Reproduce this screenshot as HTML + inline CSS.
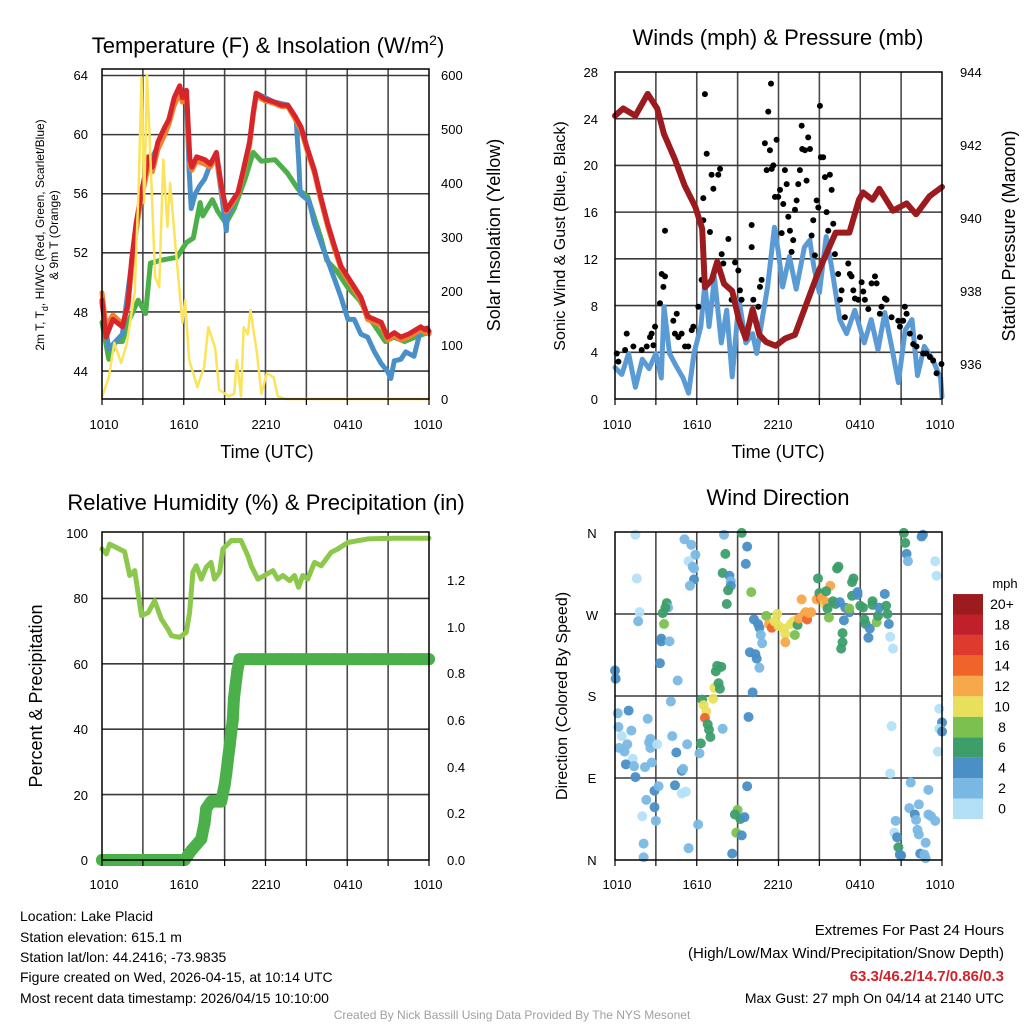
<!DOCTYPE html>
<html><head><meta charset="utf-8"><style>
html,body{margin:0;padding:0;background:#fff;}
svg{display:block;font-family:"Liberation Sans",Arial,sans-serif;}
</style></head><body>
<svg id="fig" width="1024" height="1024" viewBox="0 0 1024 1024" xmlns="http://www.w3.org/2000/svg">
<rect x="0" y="0" width="1024" height="1024" fill="#fff"/>
<g id="grids"></g>
<g id="marks"></g>
<g id="frames"></g>
<text x="268" y="53" font-size="22" text-anchor="middle">Temperature (F) &amp; Insolation (W/m<tspan dy="-8" font-size="14">2</tspan><tspan dy="8">)</tspan></text>
<g font-size="13" text-anchor="end">
<text x="88" y="80">64</text><text x="88" y="139">60</text><text x="88" y="198">56</text><text x="88" y="257">52</text><text x="88" y="317">48</text><text x="88" y="376">44</text></g>
<g font-size="13" text-anchor="start">
<text x="441" y="80">600</text><text x="441" y="134">500</text><text x="441" y="188">400</text><text x="441" y="242">300</text><text x="441" y="296">200</text><text x="441" y="350">100</text><text x="441" y="404">0</text></g>
<g transform="translate(44,235) rotate(-90)" font-size="12" text-anchor="middle">
<text x="0" y="0">2m T, T<tspan dy="4" font-size="9">d</tspan><tspan dy="-4">, HI/WC (Red, Green, Scarlet/Blue)</tspan></text>
<text x="0" y="14">&amp; 9m T (Orange)</text></g>
<text transform="translate(500,235) rotate(-90)" font-size="18" text-anchor="middle">Solar Insolation (Yellow)</text>
<g font-size="13" text-anchor="middle">
<text x="104" y="429">1010</text><text x="184" y="429">1610</text><text x="266" y="429">2210</text><text x="348" y="429">0410</text><text x="428" y="429">1010</text></g>
<text x="267" y="458" font-size="18" text-anchor="middle">Time (UTC)</text>
<text x="778" y="45" font-size="22" text-anchor="middle">Winds (mph) &amp; Pressure (mb)</text>
<g font-size="13" text-anchor="end">
<text x="598" y="77">28</text><text x="598" y="124">24</text><text x="598" y="170">20</text><text x="598" y="217">16</text><text x="598" y="264">12</text><text x="598" y="311">8</text><text x="598" y="357">4</text><text x="598" y="404">0</text></g>
<g font-size="13" text-anchor="start">
<text x="960" y="77">944</text><text x="960" y="150">942</text><text x="960" y="223">940</text><text x="960" y="296">938</text><text x="960" y="369">936</text></g>
<text transform="translate(565,236) rotate(-90)" font-size="16" text-anchor="middle">Sonic Wind &amp; Gust (Blue, Black)</text>
<text transform="translate(1015,236) rotate(-90)" font-size="18" text-anchor="middle">Station Pressure (Maroon)</text>
<g font-size="13" text-anchor="middle">
<text x="617" y="429">1010</text><text x="697" y="429">1610</text><text x="778" y="429">2210</text><text x="860" y="429">0410</text><text x="940" y="429">1010</text></g>
<text x="778" y="458" font-size="18" text-anchor="middle">Time (UTC)</text>
<text x="266" y="510" font-size="22" text-anchor="middle">Relative Humidity (%) &amp; Precipitation (in)</text>
<g font-size="13" text-anchor="end">
<text x="88" y="538">100</text><text x="88" y="603">80</text><text x="88" y="669">60</text><text x="88" y="734">40</text><text x="88" y="800">20</text><text x="88" y="865">0</text></g>
<g font-size="13" text-anchor="start">
<text x="447" y="585">1.2</text><text x="447" y="632">1.0</text><text x="447" y="678">0.8</text><text x="447" y="725">0.6</text><text x="447" y="772">0.4</text><text x="447" y="818">0.2</text><text x="447" y="865">0.0</text></g>
<text transform="translate(42,696) rotate(-90)" font-size="18" text-anchor="middle">Percent &amp; Precipitation</text>
<g font-size="13" text-anchor="middle">
<text x="104" y="889">1010</text><text x="184" y="889">1610</text><text x="266" y="889">2210</text><text x="348" y="889">0410</text><text x="428" y="889">1010</text></g>
<text x="778" y="505" font-size="22" text-anchor="middle">Wind Direction</text>
<g font-size="13" text-anchor="middle">
<text x="592" y="538">N</text><text x="592" y="620">W</text><text x="592" y="701">S</text><text x="592" y="783">E</text><text x="592" y="865">N</text></g>
<text transform="translate(567,696) rotate(-90)" font-size="16" text-anchor="middle">Direction (Colored By Speed)</text>
<g font-size="13" text-anchor="middle">
<text x="617" y="889">1010</text><text x="697" y="889">1610</text><text x="778" y="889">2210</text><text x="860" y="889">0410</text><text x="940" y="889">1010</text></g>
<g id="cbar"></g>
<text x="1005" y="588" font-size="13" text-anchor="middle">mph</text>
<g font-size="14">
<text x="20" y="921">Location: Lake Placid</text>
<text x="20" y="942">Station elevation: 615.1 m</text>
<text x="20" y="962">Station lat/lon: 44.2416; -73.9835</text>
<text x="20" y="982">Figure created on Wed, 2026-04-15, at 10:14 UTC</text>
<text x="20" y="1003">Most recent data timestamp: 2026/04/15 10:10:00</text></g>
<g font-size="15" text-anchor="end">
<text x="1004" y="935">Extremes For Past 24 Hours</text>
<text x="1004" y="958">(High/Low/Max Wind/Precipitation/Snow Depth)</text>
<text x="1004" y="981" fill="#d0232a" font-weight="bold">63.3/46.2/14.7/0.86/0.3</text>
<text x="1004" y="1003" font-size="14">Max Gust: 27 mph On 04/14 at 2140 UTC</text></g>
<text x="512" y="1019" font-size="12" fill="#a0a0a0" text-anchor="middle">Created By Nick Bassill Using Data Provided By The NYS Mesonet</text>
</svg>
<script>
// ---- Panel 1: temperature & insolation ----
const tHours=[0,0.3,0.8,1.5,1.9,2.17,2.5,2.9,3.2,3.4,3.7,4.1,4.6,4.9,5.3,5.7,5.9,6.2,6.45,6.6,6.95,7.55,7.95,8.4,8.76,9.12,9.55,9.98,10.35,10.83,11.1,11.32,11.95,12.66,13.15,13.64,14.2,14.61,15.1,15.59,16.05,16.56,17.05,17.54,17.95,18.51,19.0,19.49,20.0,20.5,20.95,21.45,21.93,22.5,23.39,23.7,23.85,24];
const tempRed=[48.8,46.3,47.5,47.0,48.5,51.5,54.0,56.1,57.5,58.5,57.8,59.5,60.5,61.0,62.5,63.3,62.5,63.0,58.3,57.8,58.5,58.3,58.0,58.8,56.5,54.9,55.5,56.1,57.5,59.5,61.5,62.8,62.4,62.2,62.0,62.0,61.2,60.5,59.0,57.6,55.8,54.0,52.5,51.1,50.5,49.7,49.0,47.7,47.5,47.3,46.3,46.6,46.3,46.5,47.0,46.8,46.9,46.7];
const temp9mOrange=[49.3,47.0,47.8,47.2,48.3,51.0,53.6,55.8,57.0,58.0,57.5,59.0,60.0,60.7,62.0,62.8,62.2,62.6,58.0,57.6,58.2,58.0,57.8,58.5,56.3,54.8,55.3,56.0,57.3,59.3,61.3,62.6,62.3,62.1,61.9,61.9,61.0,60.3,58.8,57.4,55.6,53.8,52.3,50.9,50.3,49.5,48.8,47.5,47.3,47.1,46.1,46.4,46.1,46.3,46.8,46.6,46.7,46.5];
const dewHours=[0,0.5,1.0,1.5,2.0,2.66,3.2,3.55,4.3,5.5,6.2,6.7,7.2,7.4,8.1,8.5,9.1,9.7,10.5,11.1,11.7,12.7,13.6,14.4,15.1,16.1,16.5,17.2,18.0,18.9,19.7,20.8,21.4,22.2,23.0,23.6,24];
const dewGreen=[47.3,44.8,46.0,46.0,47.5,48.8,47.9,51.3,51.5,51.7,52.7,53.0,55.4,54.5,55.6,54.8,54.0,55.0,57.0,58.8,58.2,58.3,57.4,56.3,55.8,52.9,51.5,50.8,49.7,48.8,47.5,46.0,46.3,46.0,46.3,46.5,46.6];
const wcHours=[0,0.5,1.5,2.17,2.9,3.39,4.61,5.71,6.2,6.4,6.55,6.85,7.15,7.54,7.95,8.39,8.76,9.12,9.2,9.98,10.83,11.32,12.66,13.64,14.25,14.45,14.55,15.2,15.59,16.15,16.56,17.15,17.54,18.05,18.51,19.0,19.49,20.0,20.5,20.95,21.2,21.45,21.93,22.3,22.9,23.39,23.85,24];
const wcBlue=[48.6,45.5,46.5,51.3,56.0,57.8,60.3,63.0,62.5,57.5,55.0,56.0,56.5,57.0,58.0,58.5,56.0,53.5,54.5,56.0,59.5,62.8,62.2,62.0,61.0,58.0,56.0,55.5,54.0,52.5,51.5,50.0,49.0,47.5,47.5,46.5,46.3,45.3,44.5,44.0,43.5,44.7,44.8,45.3,45.0,46.8,46.9,46.7];
const solHours=[0,0.5,0.9,1.4,1.8,2.4,2.7,2.9,3.1,3.3,3.5,3.9,4.2,4.5,4.8,5.0,5.4,5.9,6.1,6.4,7.0,7.5,7.8,8.3,8.6,9.3,9.7,9.9,10.2,10.4,10.7,10.9,11.4,11.7,12.1,12.6,12.9,13.5,24];
const solar=[4,40,104,67,100,196,400,596,363,600,480,226,207,443,319,400,281,141,183,72,22,60,133,95,17,5,10,72,5,133,120,165,80,10,48,40,5,0,0];
// ---- Panel 2: winds & pressure ----
const windHours=[0,0.5,1.0,1.5,2.0,2.5,3.0,3.4,3.6,4.0,4.5,5.0,5.4,5.8,6.3,6.6,6.9,7.3,7.8,8.2,8.6,9.1,9.6,10.1,10.4,10.8,11.2,11.7,12.0,12.3,12.8,13.3,13.9,14.3,14.6,15.0,15.5,15.9,16.5,17.0,17.6,18.3,18.8,19.3,19.8,20.3,20.8,21.3,21.8,22.2,22.7,23.3,23.9,24];
const windSpeed=[2.7,2.1,3.9,1.0,3.4,2.6,3.9,1.8,7.9,3.9,2.8,1.8,0.5,3.9,6.2,9.9,6.2,10.4,4.8,7.6,1.9,8.5,4.8,5.6,3.9,6.8,9.6,14.7,12.5,9.6,12.2,9.4,13.0,13.6,11.3,9.1,13.9,11.3,6.8,5.6,7.6,4.8,6.8,4.2,7.4,4.5,1.4,5.9,6.8,2.0,4.5,3.4,1.8,0.2];
const gustHours=[0.13,0.25,0.74,0.86,1.35,1.96,2.33,2.57,2.69,2.94,2.82,3.30,3.43,3.67,3.67,3.55,4.28,4.53,4.40,4.65,4.89,5.14,5.38,5.63,5.75,6.12,6.36,6.48,6.48,6.60,6.73,6.97,7.09,7.22,7.58,7.71,7.83,7.95,8.32,8.56,8.81,9.05,9.17,9.29,10.03,10.03,10.15,10.52,10.64,10.76,11.0,11.13,11.25,11.37,11.45,11.5,11.62,11.74,11.86,11.98,12.11,12.23,12.35,12.47,12.6,12.72,12.84,12.96,13.08,13.21,13.33,13.45,13.57,13.7,13.74,13.94,14.06,14.18,14.31,14.43,14.55,14.67,14.8,14.92,15.04,15.11,15.28,15.41,15.53,15.65,15.77,15.9,16.02,16.14,16.38,16.51,16.63,16.87,17.12,17.24,17.36,17.49,17.61,17.85,18.1,18.22,18.34,18.59,18.83,19.08,19.2,19.44,19.56,19.81,19.93,20.3,20.79,20.91,21.15,21.27,21.4,21.64,21.89,22.13,22.38,22.62,22.86,23.11,23.35,23.6,23.96];
const gustSpeed=[3.9,3.2,4.2,5.6,4.5,4.2,4.5,5.3,5.6,6.2,4.6,8.2,10.7,10.5,14.4,9.6,6.7,7.3,5.6,5.3,5.6,4.5,4.5,5.9,6.2,7.9,10.2,15.3,17.2,26.1,21.0,14.3,19.2,18.0,19.2,19.7,12.4,11.6,13.7,8.5,11.7,11.0,9.3,8.5,13.0,14.9,8.5,7.9,9.6,10.2,21.9,19.6,24.6,21.3,27.0,19.7,20.0,17.3,22.2,17.3,17.9,14.2,16.7,19.6,18.4,15.6,14.4,12.6,13.6,16.2,17.0,18.4,19.6,23.4,21.4,21.3,18.7,22.4,21.4,14.0,15.3,12.3,17.0,16.4,25.1,20.7,20.7,19.0,16.0,14.4,19.2,17.9,15.0,12.4,10.7,8.5,9.3,7.0,11.6,10.7,10.5,9.3,8.6,8.5,10.0,9.2,8.5,7.7,9.9,10.5,9.9,7.3,7.9,8.6,8.5,7.0,6.7,6.2,6.7,7.9,7.3,5.6,4.7,4.5,5.3,3.9,3.9,3.6,3.3,2.2,3.0];
const presHours=[0,0.6,1.5,2.4,3.1,3.6,4.4,5.1,5.9,6.4,6.6,7.1,7.5,8.0,8.6,9.1,9.6,10.1,10.6,11.1,11.8,12.5,13.2,14.0,14.9,16.2,17.2,17.9,18.2,18.9,19.4,20.4,21.4,22.1,23.1,24];
const pressure=[942.8,943.0,942.8,943.4,943.0,942.3,941.6,940.9,940.3,939.7,938.1,938.3,938.8,938.2,938.0,937.2,936.7,937.5,936.8,936.6,936.5,936.7,936.8,937.6,938.5,939.6,939.6,940.5,940.7,940.5,940.8,940.2,940.4,940.1,940.6,940.85];
// ---- Panel 3: RH & precipitation ----
const rhHours=[0,0.32,0.56,1.66,2.03,2.4,2.9,3.4,3.86,4.35,4.84,5.09,5.7,6.19,6.43,6.67,6.92,7.29,7.65,8.0,8.26,8.63,8.87,9.49,10.2,10.7,10.95,11.44,11.93,12.54,12.9,13.28,13.77,14.13,14.43,14.74,15.1,15.6,16.09,16.82,17.3,18.04,19.5,21.5,24];
const rh=[95.1,93.6,96.6,94.3,87.0,88.5,74.7,75.7,79.3,73.7,70.6,68.6,68.1,69.6,75.7,88.0,90.0,85.9,89.5,91.0,85.9,88.0,95.1,97.7,97.7,93.1,90.0,85.9,87.0,88.5,85.9,87.0,85.4,87.0,83.4,87.0,85.9,91.0,90.0,94.1,95.1,97.1,98.2,98.4,98.4];
const precipHours=[0,1,2,3,4,5,6.06,6.55,7.29,7.53,7.65,8.0,8.75,9.0,9.12,9.24,9.37,9.49,9.6,9.68,9.78,9.93,10.1,11,12,13,14,15,16,17,18,19,20,21,22,23,24];
const precip=[0,0,0,0,0,0,0,0.04,0.09,0.16,0.22,0.25,0.25,0.32,0.37,0.43,0.49,0.55,0.60,0.69,0.74,0.81,0.86,0.86,0.86,0.86,0.86,0.86,0.86,0.86,0.86,0.86,0.86,0.86,0.86,0.86,0.86];
// ---- Panel 4: wind direction ----
const dirHours=[1.5,1.6,1.8,1.7,5.1,5.6,5.9,5.4,5.7,5.8,5.8,5.5,8.0,9.3,8.1,9.7,9.6,7.9,8.4,8.5,8.5,8.3,8.2,10.0,3.8,3.9,3.7,3.5,3.6,3.4,3.4,4.0,3.3,0.0,0.05,4.6,4.1,0.2,1.0,2.4,0.25,1.2,0.5,0.9,0.3,0.7,1.3,0.8,1.4,2.2,2.7,2.6,2.5,2.6,3.1,4.2,4.5,5.3,6.2,6.3,4.9,5.0,1.5,2.9,3.2,4.4,4.9,5.2,2.3,2.9,2.0,3.0,6.1,2.1,5.4,2.1,8.6,9.0,8.8,9.2,9.5,8.9,9.3,9.7,9.8,10.1,10.6,9.9,10.3,10.4,7.9,6.4,6.5,6.7,6.6,6.8,6.9,7.0,7.2,7.3,7.7,7.6,7.4,7.5,7.8,10.2,10.5,10.6,10.7,10.8,11.1,11.3,11.5,11.7,11.9,12.0,12.4,12.5,12.5,12.9,13.1,13.2,13.4,13.5,13.9,14.0,14.1,14.2,14.4,13.7,14.8,14.9,15.0,15.1,15.2,15.4,15.5,15.8,15.5,15.6,15.7,16.0,16.2,16.3,16.4,16.5,16.8,16.9,17.2,17.2,17.4,17.5,17.4,17.8,17.8,18.0,18.2,18.3,18.4,18.6,18.7,18.9,18.9,19.2,19.3,19.4,19.8,19.9,20.0,20.1,20.2,20.4,16.7,16.7,16.6,21.2,21.3,21.4,21.5,22.5,22.6,23.5,23.6,23.8,24.0,23.8,24.0,23.7,20.3,20.2,21.7,21.6,22.0,22.1,22.3,23.0,23.0,23.2,23.5,20.6,20.5,20.7,20.8,20.9,21.0,22.2,22.3,22.8,22.4,22.7,22.8];
const dirDegrees=[357,309,272,262,352,346,335,328,322,320,308,301,357,359,336,344,325,315,312,306,301,296,281,294,282,277,277,271,259,243,240,240,216,208,199,197,174,161,164,155,146,142,136,127,123,119,111,105,103,102,107,133,129,123,127,136,118,127,117,128,98,100,91,76,81,82,73,75,66,58,48,43,39,18,13,3,7,55,50,45,47,30,27,81,157,184,211,228,226,221,144,176,170,163,156,149,143,135,177,189,188,194,207,213,212,264,259,255,247,238,268,259,255,262,270,257,254,248,239,259,262,247,258,265,270,272,264,271,272,286,286,309,293,287,288,281,283,301,295,276,266,284,281,320,322,283,263,277,272,276,305,309,290,294,291,279,277,264,259,244,254,284,280,261,268,277,292,279,270,259,245,232,249,239,232,359,348,336,328,355,357,328,312,166,151,144,141,119,147,95,85,57,50,44,61,77,50,48,43,43,30,25,14,6,5,33,28,19,7,6,2];
const dirSpeed=[1,1,1,3,3,3,3,1,3,3,5,3,3,7,7,5,5,7,5,3,5,7,7,9,7,3,7,7,9,5,5,3,5,5,5,3,3,3,5,3,3,3,1,3,3,3,1,5,3,3,3,3,3,3,1,3,5,3,3,7,5,3,5,5,3,5,1,1,3,5,1,3,3,3,3,3,5,9,7,7,5,9,5,5,5,5,3,5,5,5,3,7,11,11,15,7,7,7,11,11,7,7,7,7,7,5,5,5,3,3,9,13,15,11,11,11,11,11,13,11,11,9,7,13,13,13,15,13,13,13,13,7,7,15,13,11,13,13,7,7,9,7,7,7,7,5,5,5,5,9,7,7,7,5,5,7,7,7,7,5,5,7,7,9,7,5,5,7,7,5,1,1,7,7,7,7,7,5,3,5,5,1,1,1,5,1,5,1,1,1,3,3,5,3,3,3,3,3,3,3,1,5,7,5,5,3,3,3,5,3,3];
const speedBins=['0','2','4','6','8','10','12','14','16','18','20+'];
const speedColors=['#b3e0f7','#7ab8e4','#4a8fc6','#3e9e6a','#7cc150','#e8e05a','#f7a84a','#f0632b','#de3a2e','#c0202a','#9b1b1e'];

const NS='http://www.w3.org/2000/svg';
function mk(tag,attrs,parent){const e=document.createElementNS(NS,tag);for(const k in attrs)e.setAttribute(k,attrs[k]);parent.appendChild(e);return e;}
const grids=document.getElementById('grids'),marks=document.getElementById('marks'),frames=document.getElementById('frames'),cbar=document.getElementById('cbar');

const P1={x0:102,x1:429,top:69,bot:399}, P2={x0:615,x1:942,top:72,bot:399}, P3={x0:102,x1:429,top:532,bot:860}, P4={x0:615,x1:942,top:532,bot:860};
function xs(P,h){return P.x0+(P.x1-P.x0)*h/24;}
const yTemp=t=>75.5+(64-t)*14.78;
const ySol=w=>399-w*0.54;
const yWind=v=>399-v*11.68;
const yPres=p=>72+(944-p)*36.5;
const yRH=v=>860-v*3.27;
const yPre=v=>860-v*233.6;
const yDir=d=>860-d*(328/360);

function vgrid(P,name){for(let h=3;h<24;h+=3){const l=mk('line',{x1:xs(P,h),x2:xs(P,h),y1:P.top,y2:P.bot,stroke:'#4a4a4a','stroke-width':1.6},grids);

}}
function hgrid(P,ys,name){ys.forEach(y=>{const l=mk('line',{x1:P.x0,x2:P.x1,y1:y,y2:y,stroke:'#3a3a3a','stroke-width':1.6},grids);

});}
vgrid(P1,'temperature');vgrid(P2,'winds');vgrid(P3,'humidity');vgrid(P4,'direction');
hgrid(P1,[64,60,56,52,48,44].map(yTemp),'temperature');
hgrid(P2,[24,20,16,12,8,4].map(yWind),'winds');
hgrid(P3,[80,60,40,20].map(yRH),'humidity');
hgrid(P4,[270,180,90].map(yDir),'direction');

function pline(P,hs,vs,yf,color,w,name){const pts=hs.map((h,i)=>xs(P,h).toFixed(1)+','+yf(vs[i]).toFixed(1)).join(' ');
const e=mk('polyline',{points:pts,fill:'none',stroke:color,'stroke-width':w,'stroke-linejoin':'round','stroke-linecap':'round'},marks);

return e;}

pline(P1,dewHours,dewGreen,yTemp,'#4bb04a',5,'dewpoint-line');
pline(P1,wcHours,wcBlue,yTemp,'#4a90c8',5,'windchill-line');
pline(P1,tHours,temp9mOrange,yTemp,'#f28030',5,'temperature-9m-line');
pline(P1,tHours,tempRed,yTemp,'#d7262b',5,'temperature-2m-line');
pline(P1,solHours,solar,ySol,'#fbe35b',2.5,'insolation-line');
pline(P2,windHours,windSpeed,yWind,'#5b9bd5',5,'wind-speed-line');
gustHours.forEach((h,i)=>{const c=mk('circle',{cx:xs(P2,h),cy:yWind(gustSpeed[i]),r:3,fill:'#000'},marks);

});
pline(P2,presHours,pressure,yPres,'#9b1b1e',6,'pressure-line');
pline(P3,rhHours,rh,yRH,'#8cc84b',5,'humidity-line');
pline(P3,precipHours,precip,yPre,'#4bb04a',12,'precipitation-line');
precipHours.forEach((h,i)=>{const c=mk('circle',{cx:xs(P3,h),cy:yPre(precip[i]),r:6,fill:'#4bb04a'},marks);

});
dirHours.forEach((h,i)=>{const idx=Math.min(10,Math.floor(dirSpeed[i]/2));const c=mk('circle',{cx:xs(P4,h),cy:yDir(dirDegrees[i]),r:5,fill:speedColors[idx],'fill-opacity':0.95},marks);

});
speedBins.forEach((lab,i)=>{const y=819-(i+1)*20.45;const r=mk('rect',{x:953,y:y,width:30,height:20.45,fill:speedColors[i]},cbar);


const t=mk('text',{x:1002,y:y+15,'font-size':14,'text-anchor':'middle'},cbar);t.textContent=lab;

});

[[P1,'temperature'],[P2,'winds'],[P3,'humidity'],[P4,'direction']].forEach(([P,n])=>{const r=mk('rect',{x:P.x0,y:P.top,width:P.x1-P.x0,height:P.bot-P.top,fill:'none',stroke:'#000','stroke-width':1.5},frames);


for(let h=0;h<=24;h+=3){const t=mk('line',{x1:xs(P,h),x2:xs(P,h),y1:P.bot,y2:P.bot+6,stroke:'#000','stroke-width':1.2},frames);

}});
</script>
</body></html>
